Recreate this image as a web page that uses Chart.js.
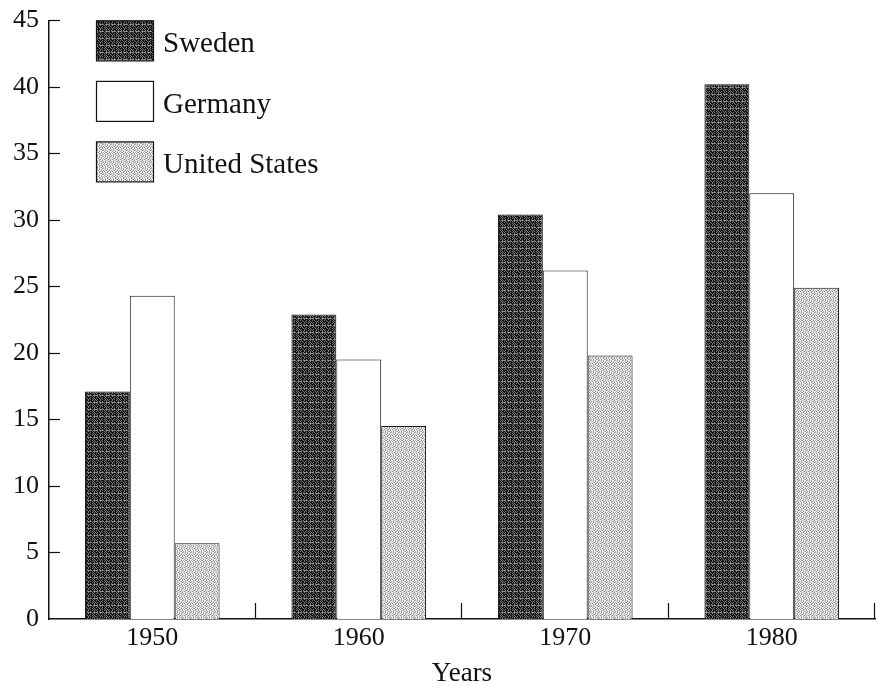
<!DOCTYPE html>
<html>
<head>
<meta charset="utf-8">
<script src="https://cdn.jsdelivr.net/npm/chart.js@4.4.1/dist/chart.umd.min.js"></script>
<style>
  body { margin: 0; background: #fff; }
  #wrap { width: 877px; height: 686px; }
</style>
</head>
<body>
<div id="wrap"><canvas id="myChart" width="877" height="686"></canvas></div>
<script>
// данные
const years = ['1950', '1960', '1970', '1980'];
const sweden = [17.1, 22.9, 30.4, 40.2];
const germany = [24.3, 19.5, 26.2, 32.0];
const usa = [5.7, 14.5, 19.8, 24.9];
const seriesNames = ['Sweden', 'Germany', 'United States'];

// текстуры для столбиков
function makePattern(rows, colors) {
  const c = document.createElement('canvas');
  c.width = rows[0].length;
  c.height = rows.length;
  const g = c.getContext('2d');
  rows.forEach((r, yy) => {
    for (let xx = 0; xx < r.length; xx++) {
      g.fillStyle = colors[r[xx]];
      g.fillRect(xx, yy, 1, 1);
    }
  });
  return g.createPattern(c, 'repeat');
}

const darkFill = makePattern([
  'kgkkgkgkkgkg',
  'gkkkgkkkgkgk',
  'kgkgkkgkkkgk',
  'lgkglglgkglg',
  'kgkkgkkkgkgk',
  'gkgkkkgkkgkk',
  'kkkgkgkkgkgk'
], { k: '#141414', g: '#767676', l: '#a4a4a4' });

const lightFill = makePattern([
  'wgwlwwgl',
  'lwwgwlww',
  'wlgwwgwl',
  'gwwlgwlw',
  'wlwgwwgw',
  'wgwwlgwl'
], { w: '#f0f0f0', g: '#8c8c8c', l: '#b4b4b4' });

const fills = [darkFill, '#ffffff', lightFill];
const font = 'Liberation Serif';

// тики внутрь, границы групп и легенда
const decor = {
  id: 'decor',
  afterDatasetsDraw(chart) {
    const { ctx, chartArea: a, scales: { x, y } } = chart;
    ctx.save();
    ctx.strokeStyle = '#111';
    ctx.lineWidth = 1.2;
    function line(x1, y1, x2, y2) {
      ctx.beginPath(); ctx.moveTo(x1, y1); ctx.lineTo(x2, y2); ctx.stroke();
    }
    y.ticks.forEach(t => {
      if (t.value === 0) return;
      const py = Math.round(y.getPixelForValue(t.value)) + 0.5;
      line(a.left, py, a.left + 11, py);
    });
    const w = x.getPixelForValue(1) - x.getPixelForValue(0);
    for (let i = 0; i < years.length; i++) {
      const px = Math.round(x.getPixelForValue(i) + w / 2) - 0.5;
      line(px, a.bottom, px, a.bottom - 16);
    }
    // легенда
    ctx.font = '29px "' + font + '"';
    ctx.textBaseline = 'middle';
    ctx.textAlign = 'left';
    seriesNames.forEach((name, i) => {
      const bx = a.left + 47, by = a.top + i * 60.5;
      ctx.fillStyle = fills[i];
      ctx.fillRect(bx, by, 57, 40);
      ctx.strokeRect(bx + 0.5, by + 0.5, 57, 40);
      ctx.fillStyle = '#111';
      ctx.fillText(name, bx + 67, by + 24);
    });
    ctx.restore();
  }
};

const ctx = document.getElementById('myChart');
const myChart = new Chart(ctx, {
  type: 'bar',
  data: {
    labels: years,
    datasets: [
      { label: seriesNames[0], data: sweden, backgroundColor: darkFill },
      { label: seriesNames[1], data: germany, backgroundColor: '#ffffff' },
      { label: seriesNames[2], data: usa, backgroundColor: lightFill }
    ].map(d => Object.assign(d, {
      borderColor: '#111',
      borderWidth: 1,
      borderSkipped: 'bottom',
      categoryPercentage: 0.652,
      barPercentage: 1
    }))
  },
  options: {
    responsive: false,
    animation: false,
    layout: { padding: { top: 0, right: 2, left: 3, bottom: 0 } },
    plugins: {
      legend: { display: false },
      tooltip: { enabled: false }
    },
    scales: {
      x: {
        grid: { display: false, drawTicks: false },
        border: { display: true, color: '#111', width: 1.5 },
        ticks: { color: '#111', padding: 5, font: { family: font, size: 26, lineHeight: 1.1 } },
        title: {
          display: true, text: 'Years', color: '#111',
          font: { family: font, size: 27 },
          padding: { top: 0, bottom: -4 }
        }
      },
      y: {
        min: 0, max: 45,
        grid: { display: false, drawTicks: false },
        border: { display: true, color: '#111', width: 1.5 },
        ticks: { stepSize: 5, color: '#111', padding: 10, font: { family: font, size: 26, lineHeight: 0.8 } }
      }
    }
  },
  plugins: [decor]
});
</script>
</body>
</html>
